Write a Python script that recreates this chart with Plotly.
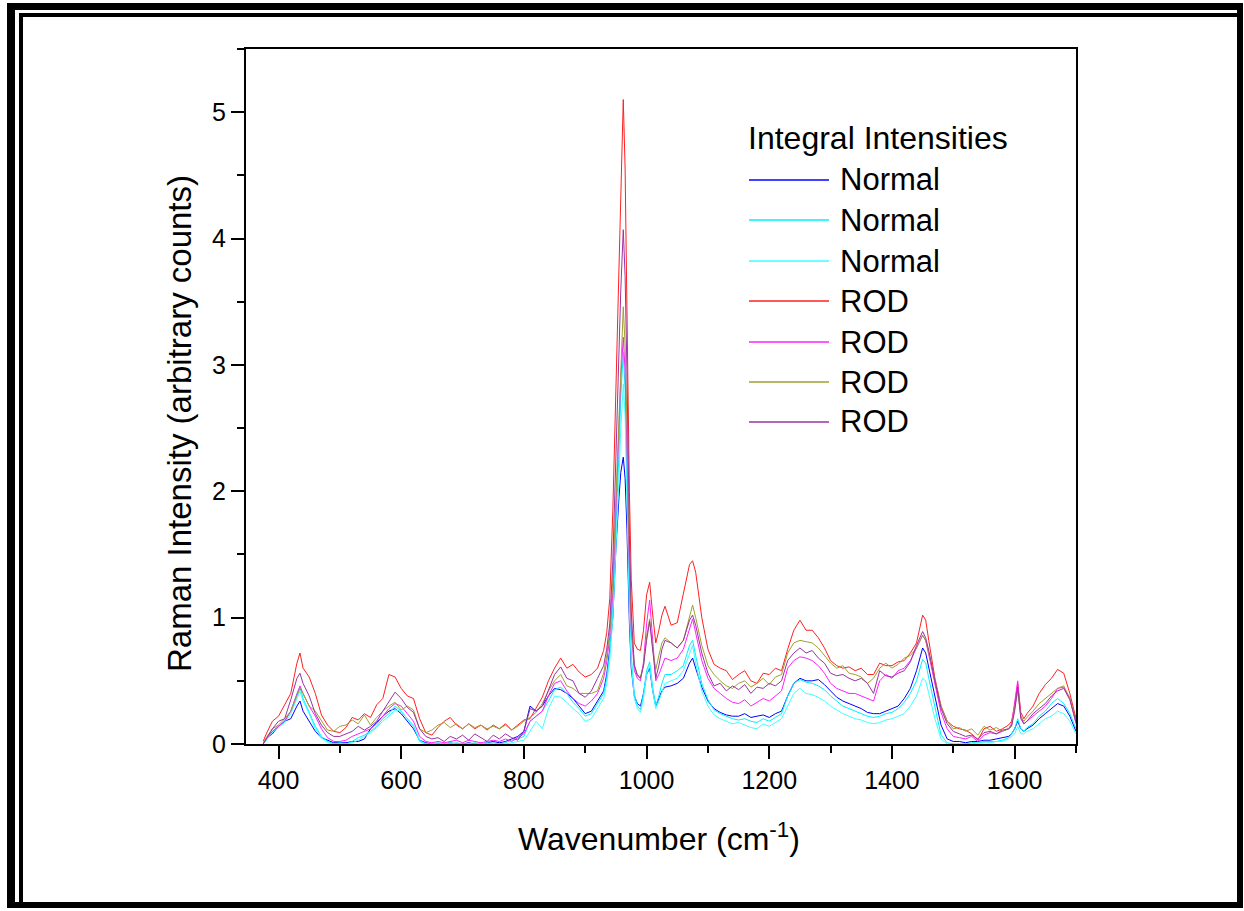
import plotly.graph_objects as go

# ---------------- data ----------------
wavenumber = [
    375, 380, 390, 400, 410, 420, 430, 435, 440, 450,
    460, 470, 480, 490, 500, 510, 520, 530, 540, 550,
    560, 570, 580, 590, 600, 610, 620, 630, 640, 650,
    660, 670, 680, 690, 700, 710, 720, 730, 740, 750,
    760, 770, 780, 790, 800, 810, 820, 830, 840, 850,
    860, 870, 880, 890, 900, 910, 920, 930, 935, 940,
    945, 950, 955, 958, 962, 965, 968, 970, 972, 975,
    980, 985, 990, 995, 1000, 1005, 1010, 1015, 1020, 1025,
    1030, 1040, 1050, 1060, 1070, 1075, 1080, 1090, 1100, 1110,
    1120, 1130, 1140, 1150, 1160, 1170, 1180, 1190, 1200, 1210,
    1220, 1230, 1240, 1250, 1260, 1270, 1280, 1290, 1300, 1310,
    1320, 1330, 1340, 1350, 1360, 1370, 1380, 1390, 1400, 1410,
    1420, 1430, 1440, 1450, 1455, 1460, 1470, 1480, 1490, 1500,
    1510, 1520, 1530, 1540, 1550, 1560, 1570, 1580, 1590, 1595,
    1600, 1605, 1610, 1615, 1620, 1630, 1640, 1650, 1660, 1670,
    1680, 1690, 1700,
]

normal_blue = [
    0.00, 0.04, 0.08, 0.14, 0.18, 0.20, 0.30, 0.34, 0.26, 0.18,
    0.10, 0.05, 0.03, 0.01, 0.01, 0.01, 0.02, 0.02, 0.04, 0.12,
    0.17, 0.22, 0.26, 0.28, 0.24, 0.18, 0.12, 0.03, 0.01, 0.00,
    0.00, 0.00, 0.01, 0.00, 0.00, 0.01, 0.00, 0.00, 0.01, 0.02,
    0.01, 0.02, 0.04, 0.06, 0.10, 0.30, 0.26, 0.30, 0.38, 0.44,
    0.43, 0.40, 0.36, 0.30, 0.24, 0.26, 0.34, 0.42, 0.55, 0.75,
    1.00, 1.55, 1.95, 2.15, 2.27, 2.10, 1.70, 1.30, 0.95, 0.60,
    0.38, 0.32, 0.30, 0.40, 0.55, 0.60, 0.42, 0.30, 0.36, 0.42,
    0.45, 0.46, 0.48, 0.52, 0.64, 0.68, 0.60, 0.45, 0.34, 0.28,
    0.25, 0.23, 0.22, 0.22, 0.24, 0.21, 0.22, 0.23, 0.21, 0.24,
    0.26, 0.38, 0.48, 0.52, 0.50, 0.50, 0.51, 0.47, 0.42, 0.37,
    0.34, 0.32, 0.30, 0.28, 0.25, 0.24, 0.24, 0.26, 0.28, 0.30,
    0.36, 0.44, 0.58, 0.76, 0.72, 0.60, 0.38, 0.15, 0.04, 0.02,
    0.02, 0.01, 0.02, 0.02, 0.03, 0.03, 0.04, 0.05, 0.06, 0.08,
    0.12, 0.18, 0.12, 0.10, 0.12, 0.15, 0.20, 0.24, 0.28, 0.32,
    0.30, 0.22, 0.10,
]

normal_cyan = [
    0.00, 0.03, 0.10, 0.14, 0.18, 0.26, 0.40, 0.45, 0.36, 0.25,
    0.14, 0.06, 0.02, 0.00, 0.01, 0.00, 0.02, 0.05, 0.07, 0.10,
    0.14, 0.20, 0.24, 0.30, 0.26, 0.20, 0.14, 0.02, 0.00, 0.00,
    0.01, 0.00, 0.00, 0.01, 0.00, 0.00, 0.01, 0.00, 0.00, 0.01,
    0.00, 0.01, 0.03, 0.04, 0.06, 0.18, 0.22, 0.26, 0.34, 0.43,
    0.45, 0.40, 0.33, 0.28, 0.22, 0.24, 0.32, 0.40, 0.52, 0.72,
    1.10, 1.65, 2.30, 2.75, 3.10, 2.80, 2.20, 1.60, 1.15, 0.70,
    0.40, 0.30, 0.27, 0.40, 0.58, 0.65, 0.45, 0.30, 0.38, 0.48,
    0.55, 0.55, 0.58, 0.62, 0.78, 0.82, 0.70, 0.48, 0.35, 0.27,
    0.24, 0.22, 0.20, 0.19, 0.20, 0.18, 0.17, 0.20, 0.18, 0.21,
    0.24, 0.38, 0.48, 0.51, 0.49, 0.48, 0.46, 0.43, 0.38, 0.34,
    0.30, 0.28, 0.26, 0.24, 0.22, 0.21, 0.22, 0.24, 0.25, 0.28,
    0.33, 0.40, 0.50, 0.67, 0.64, 0.52, 0.28, 0.07, 0.01, 0.00,
    0.00, 0.00, 0.01, 0.01, 0.02, 0.02, 0.02, 0.03, 0.05, 0.08,
    0.12, 0.20, 0.12, 0.10, 0.13, 0.16, 0.22, 0.26, 0.32, 0.36,
    0.32, 0.24, 0.12,
]

normal_light_cyan = [
    0.00, 0.03, 0.09, 0.13, 0.17, 0.24, 0.37, 0.42, 0.34, 0.24,
    0.12, 0.05, 0.01, 0.00, 0.00, 0.00, 0.01, 0.03, 0.06, 0.09,
    0.13, 0.18, 0.22, 0.27, 0.26, 0.20, 0.15, 0.03, 0.00, 0.00,
    0.00, 0.00, 0.01, 0.00, 0.00, 0.00, 0.00, 0.00, 0.01, 0.00,
    0.00, 0.00, 0.01, 0.02, 0.03, 0.10, 0.18, 0.12, 0.28, 0.38,
    0.37, 0.33, 0.28, 0.24, 0.18, 0.20, 0.28, 0.36, 0.48, 0.66,
    1.00, 1.50, 2.10, 2.50, 2.85, 2.60, 2.05, 1.50, 1.05, 0.65,
    0.36, 0.28, 0.25, 0.36, 0.55, 0.62, 0.42, 0.28, 0.34, 0.42,
    0.48, 0.50, 0.52, 0.58, 0.72, 0.78, 0.64, 0.42, 0.30, 0.23,
    0.20, 0.18, 0.16, 0.17, 0.15, 0.13, 0.12, 0.16, 0.14, 0.17,
    0.20, 0.30, 0.40, 0.44, 0.40, 0.39, 0.37, 0.34, 0.30, 0.27,
    0.24, 0.22, 0.20, 0.19, 0.17, 0.16, 0.17, 0.19, 0.20, 0.22,
    0.24, 0.30, 0.38, 0.52, 0.50, 0.40, 0.20, 0.04, 0.00, 0.00,
    0.00, 0.00, 0.00, 0.01, 0.01, 0.01, 0.02, 0.02, 0.04, 0.06,
    0.08, 0.14, 0.08, 0.08, 0.10, 0.12, 0.16, 0.20, 0.22, 0.26,
    0.24, 0.18, 0.08,
]

rod_red = [
    0.02, 0.08, 0.18, 0.22, 0.31, 0.40, 0.64, 0.72, 0.60, 0.53,
    0.40, 0.23, 0.15, 0.10, 0.09, 0.13, 0.21, 0.19, 0.24, 0.21,
    0.31, 0.36, 0.55, 0.53, 0.44, 0.38, 0.36, 0.20, 0.09, 0.07,
    0.13, 0.18, 0.21, 0.15, 0.12, 0.16, 0.12, 0.15, 0.11, 0.15,
    0.12, 0.16, 0.11, 0.15, 0.19, 0.20, 0.28, 0.37, 0.50, 0.60,
    0.68, 0.60, 0.63, 0.57, 0.53, 0.55, 0.60, 0.74, 0.88, 1.15,
    1.85, 2.80, 3.85, 4.50, 5.10, 4.55, 3.65, 2.70, 2.00, 1.30,
    0.80, 0.75, 0.74, 0.90, 1.18, 1.28, 1.02, 0.80, 0.90, 1.02,
    1.09, 0.94, 0.96, 1.18, 1.42, 1.45, 1.36, 1.00, 0.75, 0.63,
    0.60, 0.58, 0.51, 0.55, 0.58, 0.50, 0.48, 0.56, 0.55, 0.60,
    0.58, 0.75, 0.90, 0.98, 0.90, 0.90, 0.84, 0.76, 0.66, 0.62,
    0.60, 0.61, 0.58, 0.60, 0.55, 0.55, 0.64, 0.62, 0.62, 0.65,
    0.66, 0.72, 0.80, 1.02, 0.98, 0.82, 0.52, 0.30, 0.18, 0.14,
    0.12, 0.11, 0.08, 0.03, 0.12, 0.14, 0.10, 0.12, 0.15, 0.18,
    0.30, 0.48, 0.25, 0.20, 0.24, 0.30, 0.40, 0.47, 0.52, 0.59,
    0.56, 0.40, 0.20,
]

rod_magenta = [
    0.00, 0.04, 0.10, 0.14, 0.18, 0.26, 0.40, 0.46, 0.40, 0.30,
    0.22, 0.12, 0.05, 0.02, 0.02, 0.03, 0.06, 0.08, 0.10, 0.12,
    0.16, 0.22, 0.28, 0.32, 0.30, 0.24, 0.18, 0.06, 0.02, 0.01,
    0.02, 0.01, 0.02, 0.03, 0.01, 0.03, 0.02, 0.01, 0.02, 0.03,
    0.02, 0.04, 0.02, 0.05, 0.08, 0.18, 0.22, 0.26, 0.38, 0.48,
    0.50, 0.42, 0.36, 0.32, 0.30, 0.34, 0.40, 0.52, 0.65, 0.85,
    1.20, 1.85, 2.50, 2.90, 3.22, 2.95, 2.35, 1.80, 1.35, 0.90,
    0.58, 0.52, 0.50, 0.65, 0.95, 1.14, 0.80, 0.50, 0.55, 0.62,
    0.68, 0.66, 0.68, 0.75, 0.92, 0.99, 0.88, 0.66, 0.52, 0.44,
    0.40, 0.36, 0.33, 0.32, 0.35, 0.30, 0.33, 0.36, 0.34, 0.38,
    0.42, 0.60, 0.66, 0.69, 0.68, 0.66, 0.62, 0.56, 0.48, 0.44,
    0.42, 0.40, 0.40, 0.38, 0.36, 0.34, 0.50, 0.55, 0.52, 0.58,
    0.60, 0.66, 0.76, 0.86, 0.82, 0.70, 0.46, 0.25, 0.12, 0.06,
    0.05, 0.04, 0.06, 0.02, 0.07, 0.09, 0.08, 0.10, 0.12, 0.16,
    0.32, 0.50, 0.22, 0.16, 0.18, 0.22, 0.26, 0.30, 0.36, 0.44,
    0.45, 0.36, 0.16,
]

rod_olive = [
    0.00, 0.05, 0.12, 0.15, 0.20, 0.26, 0.38, 0.44, 0.40, 0.30,
    0.26, 0.19, 0.11, 0.10, 0.14, 0.15, 0.19, 0.16, 0.23, 0.15,
    0.21, 0.26, 0.30, 0.33, 0.27, 0.30, 0.27, 0.12, 0.09, 0.11,
    0.15, 0.17, 0.13, 0.16, 0.12, 0.16, 0.13, 0.15, 0.12, 0.14,
    0.12, 0.15, 0.11, 0.14, 0.18, 0.21, 0.25, 0.32, 0.42, 0.50,
    0.55, 0.46, 0.44, 0.40, 0.40, 0.40, 0.42, 0.56, 0.70, 0.88,
    1.30, 1.95, 2.65, 3.10, 3.46, 3.15, 2.55, 1.90, 1.45, 0.95,
    0.63, 0.55, 0.53, 0.62, 0.85, 0.99, 0.75, 0.59, 0.70, 0.80,
    0.84, 0.80, 0.76, 0.82, 1.02, 1.10, 1.00, 0.78, 0.62, 0.55,
    0.50, 0.46, 0.44, 0.48, 0.50, 0.45, 0.48, 0.52, 0.47, 0.53,
    0.55, 0.72, 0.80, 0.82, 0.81, 0.80, 0.76, 0.70, 0.64, 0.60,
    0.62, 0.56, 0.55, 0.53, 0.48, 0.52, 0.60, 0.64, 0.60, 0.63,
    0.68, 0.70, 0.76, 0.86, 0.82, 0.72, 0.50, 0.30, 0.18, 0.12,
    0.13, 0.10, 0.12, 0.07, 0.14, 0.11, 0.13, 0.10, 0.12, 0.15,
    0.28, 0.42, 0.22, 0.18, 0.21, 0.26, 0.32, 0.36, 0.40, 0.44,
    0.46, 0.36, 0.18,
]

rod_purple = [
    0.00, 0.04, 0.12, 0.18, 0.20, 0.35, 0.52, 0.56, 0.48, 0.38,
    0.24, 0.15, 0.09, 0.06, 0.06, 0.08, 0.10, 0.14, 0.11, 0.14,
    0.18, 0.26, 0.33, 0.41, 0.36, 0.29, 0.25, 0.12, 0.06, 0.04,
    0.05, 0.02, 0.06, 0.04, 0.07, 0.03, 0.08, 0.05, 0.02, 0.07,
    0.04, 0.08, 0.05, 0.03, 0.10, 0.28, 0.26, 0.30, 0.42, 0.55,
    0.61, 0.52, 0.50, 0.40, 0.37, 0.42, 0.52, 0.62, 0.75, 0.95,
    1.45, 2.30, 3.10, 3.60, 4.07, 3.70, 2.95, 2.20, 1.65, 1.05,
    0.62, 0.54, 0.52, 0.62, 0.82, 0.97, 0.72, 0.52, 0.62, 0.75,
    0.82, 0.80, 0.76, 0.82, 0.98, 1.02, 0.94, 0.72, 0.56, 0.46,
    0.48, 0.42, 0.46, 0.43, 0.47, 0.40, 0.45, 0.44, 0.48, 0.46,
    0.50, 0.66, 0.72, 0.76, 0.72, 0.74, 0.68, 0.64, 0.56, 0.54,
    0.55, 0.52, 0.50, 0.52, 0.48, 0.40, 0.58, 0.54, 0.53, 0.56,
    0.58, 0.65, 0.78, 0.89, 0.84, 0.74, 0.50, 0.28, 0.16, 0.10,
    0.08, 0.06, 0.07, 0.04, 0.09, 0.10, 0.08, 0.11, 0.12, 0.14,
    0.26, 0.45, 0.20, 0.16, 0.18, 0.24, 0.28, 0.32, 0.38, 0.42,
    0.44, 0.35, 0.17,
]

series_values = [normal_blue, normal_cyan, normal_light_cyan,
                 rod_red, rod_magenta, rod_olive, rod_purple]
series_names = ["Normal", "Normal", "Normal", "ROD", "ROD", "ROD", "ROD"]
series_colors = ["#0000FF", "#00F0FF", "#40FFFF", "#FF2020",
                 "#FF20FF", "#A0A030", "#9933A0"]

legend_title = "Integral Intensities"
x_tick_values = [400, 600, 800, 1000, 1200, 1400, 1600]
x_minor_values = [500, 700, 900, 1100, 1300, 1500, 1700]
y_tick_values = [0, 1, 2, 3, 4, 5]
y_minor_values = [0.5, 1.5, 2.5, 3.5, 4.5, 5.5]

for s in series_values:
    assert len(s) == len(wavenumber), len(s)

# ---------------- layout geometry (pixels) ----------------
W, H = 1244, 911
L, R, T, B = 246, 168, 49, 167
PW, PH = W - L - R, H - T - B
FONT = "Liberation Sans, Arial, sans-serif"


def px(xp):
    return (xp - L) / PW


def py(yp):
    return (H - B - yp) / PH


fig = go.Figure()
for vals, name, col in zip(series_values, series_names, series_colors):
    fig.add_trace(go.Scatter(x=wavenumber, y=vals, mode="lines", name=name,
                             line=dict(color=col, width=1), showlegend=False))

shapes = []
annotations = []


# frame around the picture
def black_rect(x0, y0, x1, y1):
    shapes.append(dict(type="rect", xref="paper", yref="paper",
                       x0=px(x0), x1=px(x1), y0=py(y1), y1=py(y0),
                       fillcolor="black", line=dict(width=0), layer="above"))


black_rect(7, 3, 1243, 10)
black_rect(7, 3, 15, 908)
black_rect(7, 902, 1243, 908)
black_rect(1237, 3, 1243, 908)
black_rect(19, 13, 1237, 17)
black_rect(19, 13, 23, 902)

# legend drawn by hand
annotations.append(dict(xref="paper", yref="paper", x=px(746), y=py(138),
                        xanchor="left", yanchor="middle", showarrow=False,
                        text=legend_title, font=dict(size=32, color="black", family=FONT)))
row_y = [180, 220, 261, 301, 342, 382, 422]
for yy, name, col in zip(row_y, series_names, series_colors):
    shapes.append(dict(type="line", xref="paper", yref="paper",
                       x0=px(749), x1=px(829), y0=py(yy), y1=py(yy),
                       line=dict(color=col, width=1.5)))
    annotations.append(dict(xref="paper", yref="paper", x=px(838), y=py(yy),
                            xanchor="left", yanchor="middle", showarrow=False,
                            text=name, font=dict(size=31, color="black", family=FONT)))

# axis titles
annotations.append(dict(xref="paper", yref="paper", x=px(659), y=py(837),
                        xanchor="center", yanchor="middle", showarrow=False,
                        text="Wavenumber (cm<sup>-1</sup>)",
                        font=dict(size=32, color="black", family=FONT)))
annotations.append(dict(xref="paper", yref="paper", x=px(179), y=py(424),
                        xanchor="center", yanchor="middle", showarrow=False,
                        textangle=-90,
                        text="Raman Intensity (arbitrary counts)",
                        font=dict(size=33, color="black", family=FONT)))

axis_common = dict(showline=True, linecolor="black", linewidth=2, mirror=True,
                   ticks="outside", ticklen=13, tickwidth=2, tickcolor="black",
                   showgrid=False, zeroline=False, automargin=False,
                   tickfont=dict(size=25, color="black", family=FONT))

fig.update_layout(
    width=W, height=H, autosize=False,
    margin=dict(l=L, r=R, t=T, b=B, pad=0),
    paper_bgcolor="white", plot_bgcolor="white",
    showlegend=False,
    xaxis=dict(range=[347, 1700], tickmode="array", tickvals=x_tick_values,
               minor=dict(tickmode="array", tickvals=x_minor_values, ticks="outside",
                          ticklen=7, tickwidth=2, tickcolor="black"),
               **axis_common),
    yaxis=dict(range=[0, 5.5], tickmode="array", tickvals=y_tick_values,
               minor=dict(tickmode="array", tickvals=y_minor_values, ticks="outside",
                          ticklen=7, tickwidth=2, tickcolor="black"),
               **axis_common),
    shapes=shapes,
    annotations=annotations,
)

fig.write_html("out.html")
